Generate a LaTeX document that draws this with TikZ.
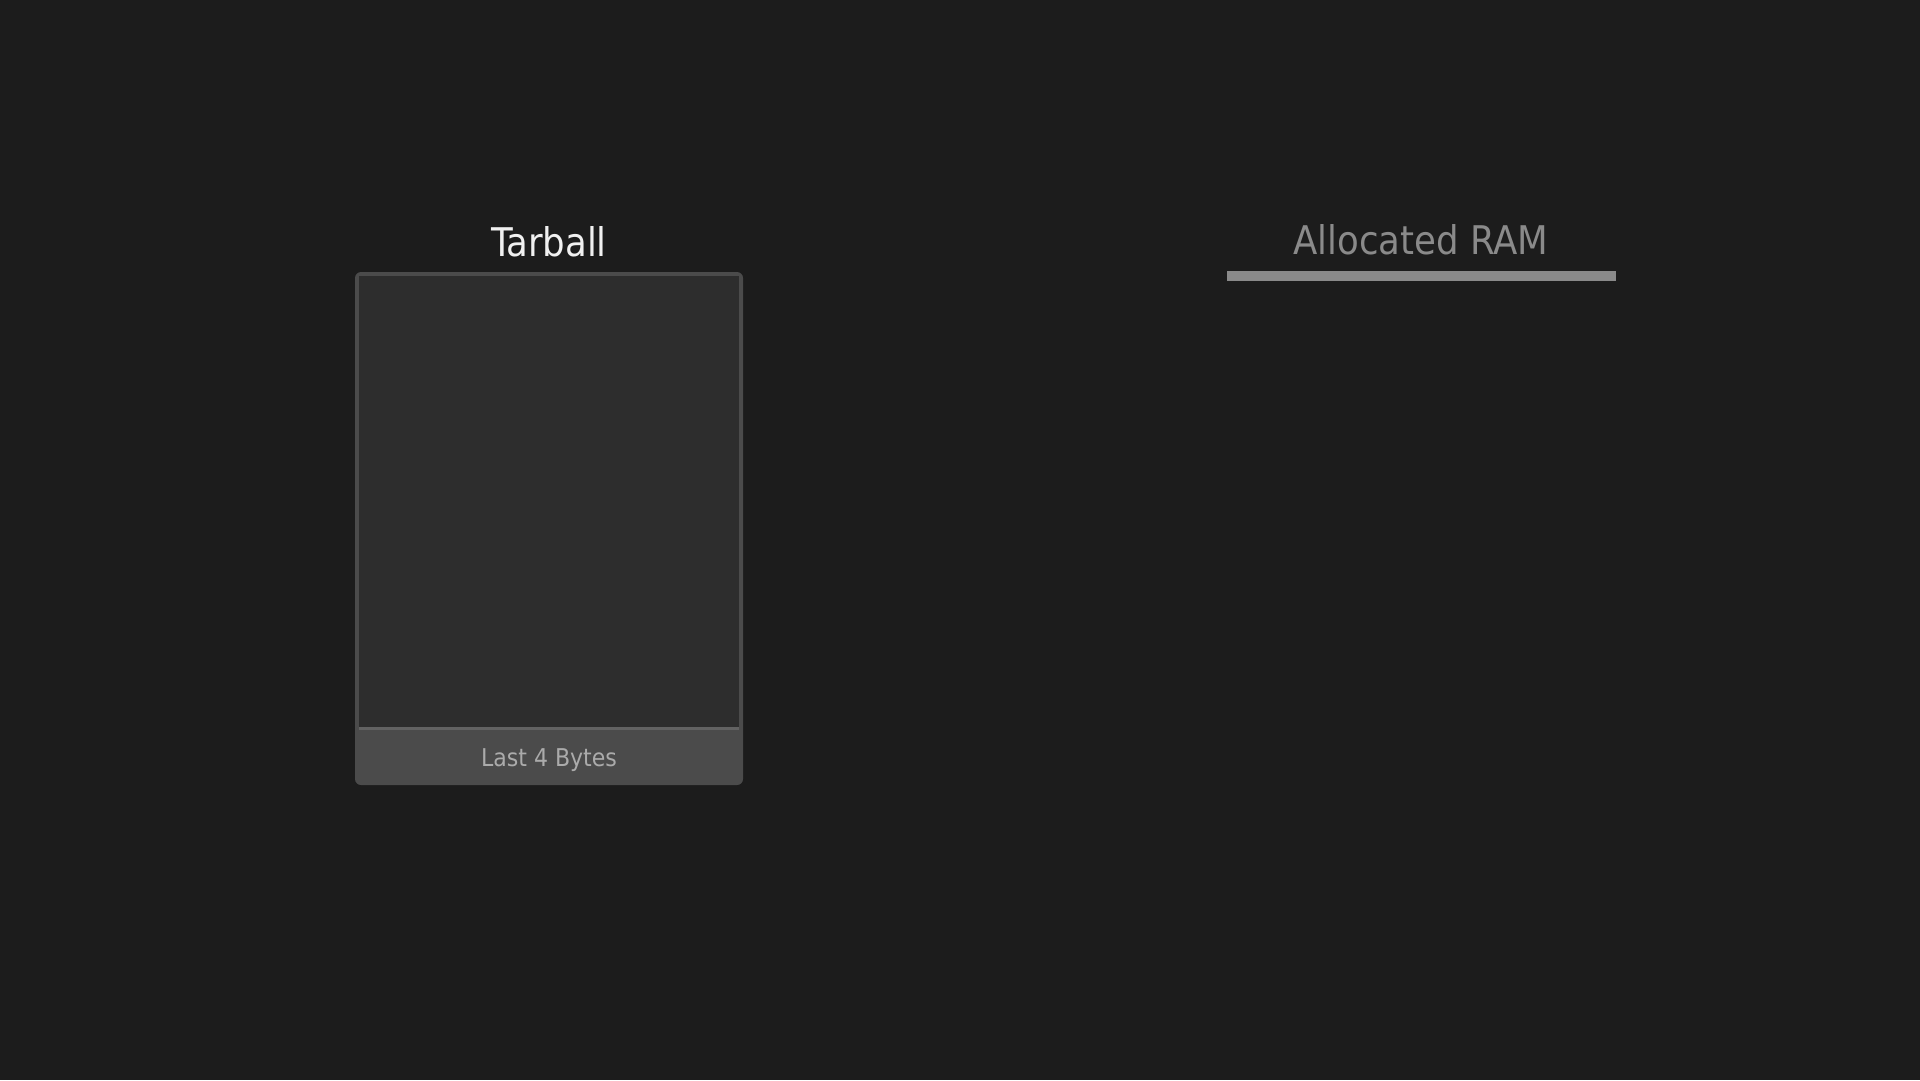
\documentclass[tikz,border=0pt]{standalone}
\usepackage{fontspec}
\setmainfont{DejaVu Sans Condensed}
\usepackage{xcolor}
\usepackage{tikz}
\usetikzlibrary{positioning}

\definecolor{bgdark}{HTML}{1C1C1C}
\definecolor{boxedge}{HTML}{4B4B4B}
\definecolor{boxinner}{HTML}{2D2D2D}
\definecolor{sepline}{HTML}{626262}
\definecolor{ramgray}{HTML}{8A8A8A}
\definecolor{bytegray}{HTML}{ABABAB}

\begin{document}
\begin{tikzpicture}[x=1pt,y=-1pt,
    title/.style={anchor=base,inner sep=0pt,font=\fontsize{39.5}{42}\selectfont},
    tarballbox/.style={fill=boxedge,rounded corners=6pt,minimum width=388pt,minimum height=513pt,inner sep=0pt},
    payload/.style={fill=boxinner,minimum width=380pt,minimum height=452pt,inner sep=0pt},
    rambar/.style={fill=ramgray,minimum width=389pt,minimum height=10pt,inner sep=0pt}]

  \fill[bgdark] (0,0) rectangle (1920,1080);
  \useasboundingbox (0,0) rectangle (1920,1080);

  % tarball
  \node[title,text=white!94!black] (tarballtitle) at (549,256) {Tarball};
  \node[tarballbox] (tarball) at (549,528.5) {};
  \node[payload] (payload) at (549,502) {};
  \draw[sepline,line width=3pt] (payload.south west) -- (payload.south east);
  \node[anchor=base,inner sep=0pt,text=bytegray,font=\fontsize{24.5}{26}\selectfont] (lastbytes) at (549,766) {Last 4 Bytes};

  % ram
  \node[title,text=ramgray] (ramtitle) at (1421,254) {Allocated RAM};
  \node[rambar] (ram) at (1421.5,276) {};
\end{tikzpicture}
\end{document}
